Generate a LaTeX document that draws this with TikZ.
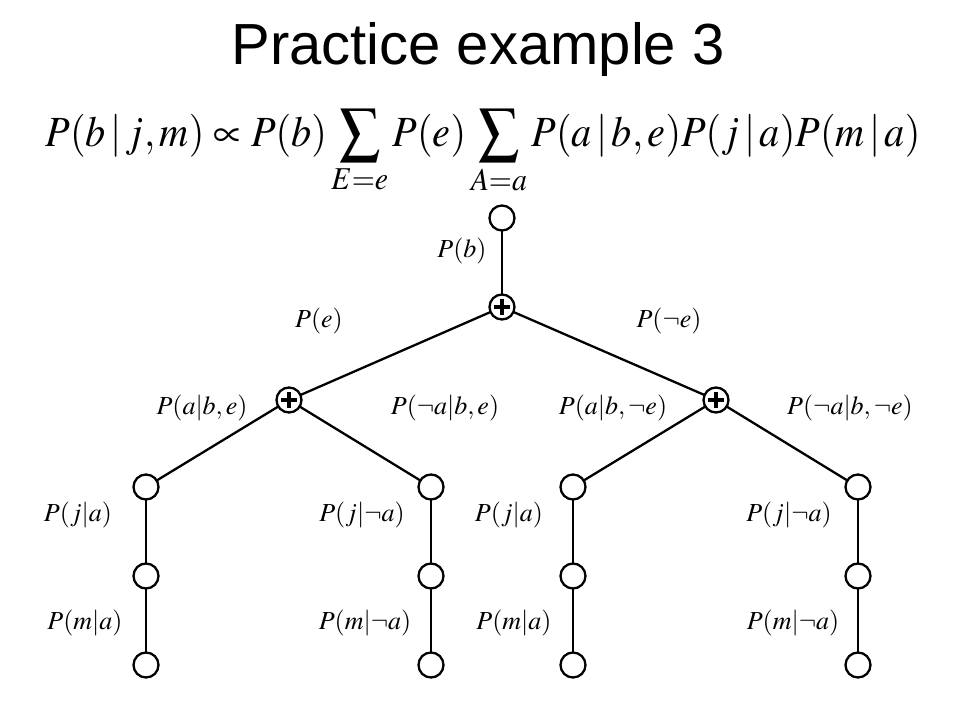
\documentclass[tikz,border=0pt]{standalone}
\usepackage{mathptmx}
\usepackage[no-math]{fontspec}
\usepackage{graphicx}
\newfontfamily\titlefont{Liberation Sans}
\begin{document}
\begin{tikzpicture}[x=1pt, y=-1pt]

	\tikzstyle{nodo}=[circle, draw, line width=2.3pt, minimum size=25pt, inner sep=0pt, fill=white]
	\tikzstyle{suma}=[nodo, path picture={
		\draw[line width=4.2pt] ([xshift=-8pt]path picture bounding box.center) -- ([xshift=8pt]path picture bounding box.center);
		\draw[line width=4.2pt] ([yshift=-8pt]path picture bounding box.center) -- ([yshift=8pt]path picture bounding box.center);}]
	\tikzstyle{rama}=[line width=2.3pt]
	\tikzstyle{etiq}=[font=\fontsize{26}{28}\selectfont, inner sep=0pt]

	\useasboundingbox (0,0) rectangle (960,720);

	\coordinate (title) at (478, 64);
	\coordinate (formula) at (483, 146);

	\coordinate (f_0) at (502, 218); % RAIZ
	\coordinate (s_1) at (502, 307); % SUMA E
	\coordinate (s_2_1) at (289, 400); % SUMA A
	\coordinate (s_2_2) at (716, 400); % SUMA A
	\coordinate (f_3_1) at (146, 487);
	\coordinate (f_3_2) at (431, 487);
	\coordinate (f_3_3) at (573, 487);
	\coordinate (f_3_4) at (858, 487);
	\coordinate (f_4_1) at (146, 576);
	\coordinate (f_4_2) at (431, 576);
	\coordinate (f_4_3) at (573, 576);
	\coordinate (f_4_4) at (858, 576);
	\coordinate (f_5_1) at (146, 665);
	\coordinate (f_5_2) at (431, 665);
	\coordinate (f_5_3) at (573, 665);
	\coordinate (f_5_4) at (858, 665);

	\node[anchor=base, inner sep=0pt] (title) at (title) {\titlefont\fontsize{58}{60}\selectfont Practice example 3};
	\node[anchor=base, inner sep=0pt] (formula) at (formula) {\fontsize{43}{46}\selectfont\resizebox{875pt}{\height}{$\displaystyle P(b\,|\,j,m)\propto P(b)\sum_{E=e}P(e)\sum_{A=a}P(a\,|\,b,e)P(j\,|\,a)P(m\,|\,a)$}};

	%%%%%%%% LINEAS %%%%%%%%
	\draw[rama] (f_0) -- (s_1);
	\draw[rama] (s_1) -- (s_2_1);
	\draw[rama] (s_1) -- (s_2_2);
	\draw[rama] (s_2_1) -- (f_3_1);
	\draw[rama] (s_2_1) -- (f_3_2);
	\draw[rama] (s_2_2) -- (f_3_3);
	\draw[rama] (s_2_2) -- (f_3_4);
	\draw[rama] (f_3_1) -- (f_4_1) -- (f_5_1);
	\draw[rama] (f_3_2) -- (f_4_2) -- (f_5_2);
	\draw[rama] (f_3_3) -- (f_4_3) -- (f_5_3);
	\draw[rama] (f_3_4) -- (f_4_4) -- (f_5_4);

	%%%%%%%% NODOS %%%%%%%%
	\node[nodo] (f_0) at (f_0) {};
	\node[suma] (s_1) at (s_1) {};
	\node[suma] (s_2_1) at (s_2_1) {};
	\node[suma] (s_2_2) at (s_2_2) {};
	\node[nodo] (f_3_1) at (f_3_1) {};
	\node[nodo] (f_3_2) at (f_3_2) {};
	\node[nodo] (f_3_3) at (f_3_3) {};
	\node[nodo] (f_3_4) at (f_3_4) {};
	\node[nodo] (f_4_1) at (f_4_1) {};
	\node[nodo] (f_4_2) at (f_4_2) {};
	\node[nodo] (f_4_3) at (f_4_3) {};
	\node[nodo] (f_4_4) at (f_4_4) {};
	\node[nodo] (f_5_1) at (f_5_1) {};
	\node[nodo] (f_5_2) at (f_5_2) {};
	\node[nodo] (f_5_3) at (f_5_3) {};
	\node[nodo] (f_5_4) at (f_5_4) {};

	%%%%%%%% ETIQUETAS %%%%%%%%
	\node[etiq] (p_b) at (462, 251) {$P(b)$};
	\node[etiq] (p_e) at (319, 321) {$P(e)$};
	\node[etiq] (p_ne) at (669, 321) {$P(\neg e)$};
	\node[etiq] (p_a_1) at (202, 408) {$P(a|b,e)$};
	\node[etiq] (p_na_1) at (445, 408) {$P(\neg a|b,e)$};
	\node[etiq] (p_a_2) at (613, 408) {$P(a|b,\neg e)$};
	\node[etiq] (p_na_2) at (850, 408) {$P(\neg a|b,\neg e)$};
	\node[etiq] (p_j_1) at (78, 515) {$P(j|a)$};
	\node[etiq] (p_j_2) at (362, 515) {$P(j|\neg a)$};
	\node[etiq] (p_j_3) at (509, 515) {$P(j|a)$};
	\node[etiq] (p_j_4) at (789, 515) {$P(j|\neg a)$};
	\node[etiq] (p_m_1) at (85, 623) {$P(m|a)$};
	\node[etiq] (p_m_2) at (365, 623) {$P(m|\neg a)$};
	\node[etiq] (p_m_3) at (514, 623) {$P(m|a)$};
	\node[etiq] (p_m_4) at (793, 623) {$P(m|\neg a)$};
\end{tikzpicture}
\end{document}
